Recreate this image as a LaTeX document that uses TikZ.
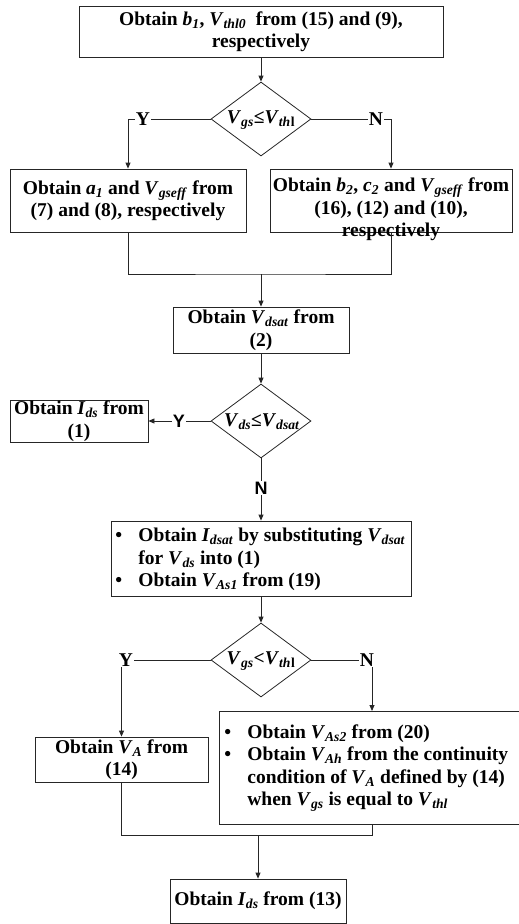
\documentclass[tikz,border=0pt]{standalone}
\usepackage{fontspec}
\setmainfont{Liberation Serif}
\newfontfamily\sansf{Liberation Sans}
\usetikzlibrary{shapes.geometric,arrows.meta}
\newcommand{\sv}[2]{\textit{#1}\textsubscript{\textit{#2}}}
\begin{document}
\begin{tikzpicture}[x=1pt,y=-1pt,
  line width=0.8pt, draw=black!85,
  box/.style={draw, rectangle, inner sep=0pt, align=center,
    font=\fontsize{19.5}{22.5}\selectfont\bfseries},
  dec/.style={draw, diamond, inner sep=0pt, minimum width=100pt, minimum height=74pt},
  txt/.style={font=\fontsize{19.5}{22.5}\selectfont\bfseries, align=center, inner sep=0pt},
  lab/.style={font=\fontsize{19.5}{22.5}\selectfont\bfseries, fill=white, inner sep=1pt},
  slab/.style={font=\fontsize{18}{20}\selectfont\sansf\bfseries, fill=white, inner sep=1pt},
  arr/.style={-{Triangle[length=6pt,width=5pt]}},
]
\useasboundingbox (0,0) rectangle (519,924);

% boxes
\node[box, minimum width=364pt, minimum height=51pt] (b1) at (261,31.5)
  {Obtain \sv{b}{1}, \sv{V}{thl0} \ from (15) and (9),\\respectively};
\node[dec] (d1) at (261,119) {};
\node[txt] (t1) at (261,120) {\sv{V}{gs}≤\sv{V}{th}\textsubscript{l}};
\node[box, minimum width=236pt, minimum height=63pt] (b2) at (128,200.5)
  {Obtain \sv{a}{1} and \sv{V}{gseff} from\\(7) and (8), respectively};
\node[box, minimum width=242pt, minimum height=63pt] (b3) at (391,200.5) {};
\node[txt] (t3) at (391,209.5)
  {Obtain \sv{b}{2}, \sv{c}{2} and \sv{V}{gseff} from\\(16), (12) and (10),\\respectively};
\node[box, minimum width=176pt, minimum height=46pt] (b4) at (261,330)
  {Obtain \sv{V}{dsat} from\\(2)};
\node[dec] (d2) at (261,421) {};
\node[txt] (t2) at (262,422) {\sv{V}{ds}≤\sv{V}{dsat}};
\node[box, minimum width=138pt, minimum height=42pt] (b5) at (79,421)
  {Obtain \sv{I}{ds} from\\(1)};
\node[box, minimum width=300pt, minimum height=75pt] (b6) at (261,558.5) {};
\node[txt, align=left, anchor=west] (t6) at (115,559.5)
  {\makebox[23pt][l]{•}Obtain \sv{I}{dsat} by substituting \sv{V}{dsat}\\
   \hspace*{23pt}for \sv{V}{ds} into (1)\\
   \makebox[23pt][l]{•}Obtain \sv{V}{As1} from (19)};
\node[dec] (d3) at (261,660) {};
\node[txt] (t7) at (261,661) {\sv{V}{gs}<\sv{V}{th}\textsubscript{l}};
\node[box, minimum width=173pt, minimum height=45pt] (b7) at (121.5,759.5)
  {Obtain \sv{V}{A} from\\(14)};
\node[box, minimum width=302pt, minimum height=113pt] (b8) at (370,767.5) {};
\node[txt, align=left, anchor=west] (t8) at (224,768)
  {\makebox[23pt][l]{•}Obtain \sv{V}{As2} from (20)\\
   \makebox[23pt][l]{•}Obtain \sv{V}{Ah} from the continuity\\
   \hspace*{23pt}condition of \sv{V}{A} defined by (14)\\
   \hspace*{23pt}when \sv{V}{gs} is equal to \sv{V}{thl}};
\node[box, minimum width=176pt, minimum height=44pt] (b9) at (258,901)
  {Obtain \sv{I}{ds} from (13)};

% coordinates
\coordinate (m1) at (261,274);
\coordinate (n8) at (372,711);
\coordinate (r8) at (372,824);
\coordinate (m2) at (258,835);

% connectors
\draw[arr] (b1.south) -- (d1.north);
\draw[arr] (d1.west) -| (b2.north);
\draw[arr] (d1.east) -| (b3.north);
\draw (b2.south) |- (m1) -| (b3.south);
\draw[arr] (m1) -- (b4.north);
\draw[arr] (b4.south) -- (d2.north);
\draw[arr] (d2.west) -- (b5.east);
\draw[arr] (d2.south) -- (d2.south |- b6.north);
\draw[arr] (b6.south) -- (d3.north);
\draw[arr] (d3.west) -| (b7.north);
\draw[arr] (d3.east) -| (n8);
\draw (b7.south) |- (m2) -| (r8);
\draw[arr] (m2) -- (b9.north);

% labels
\node[lab] (y1) at (143,119) {Y};
\node[lab] (n1) at (376,119) {N};
\node[slab] (y2) at (179,421) {Y};
\node[slab] (n2) at (261,488) {N};
\node[lab] (y3) at (126,660) {Y};
\node[lab] (n3) at (367,660) {N};
\end{tikzpicture}
\end{document}
